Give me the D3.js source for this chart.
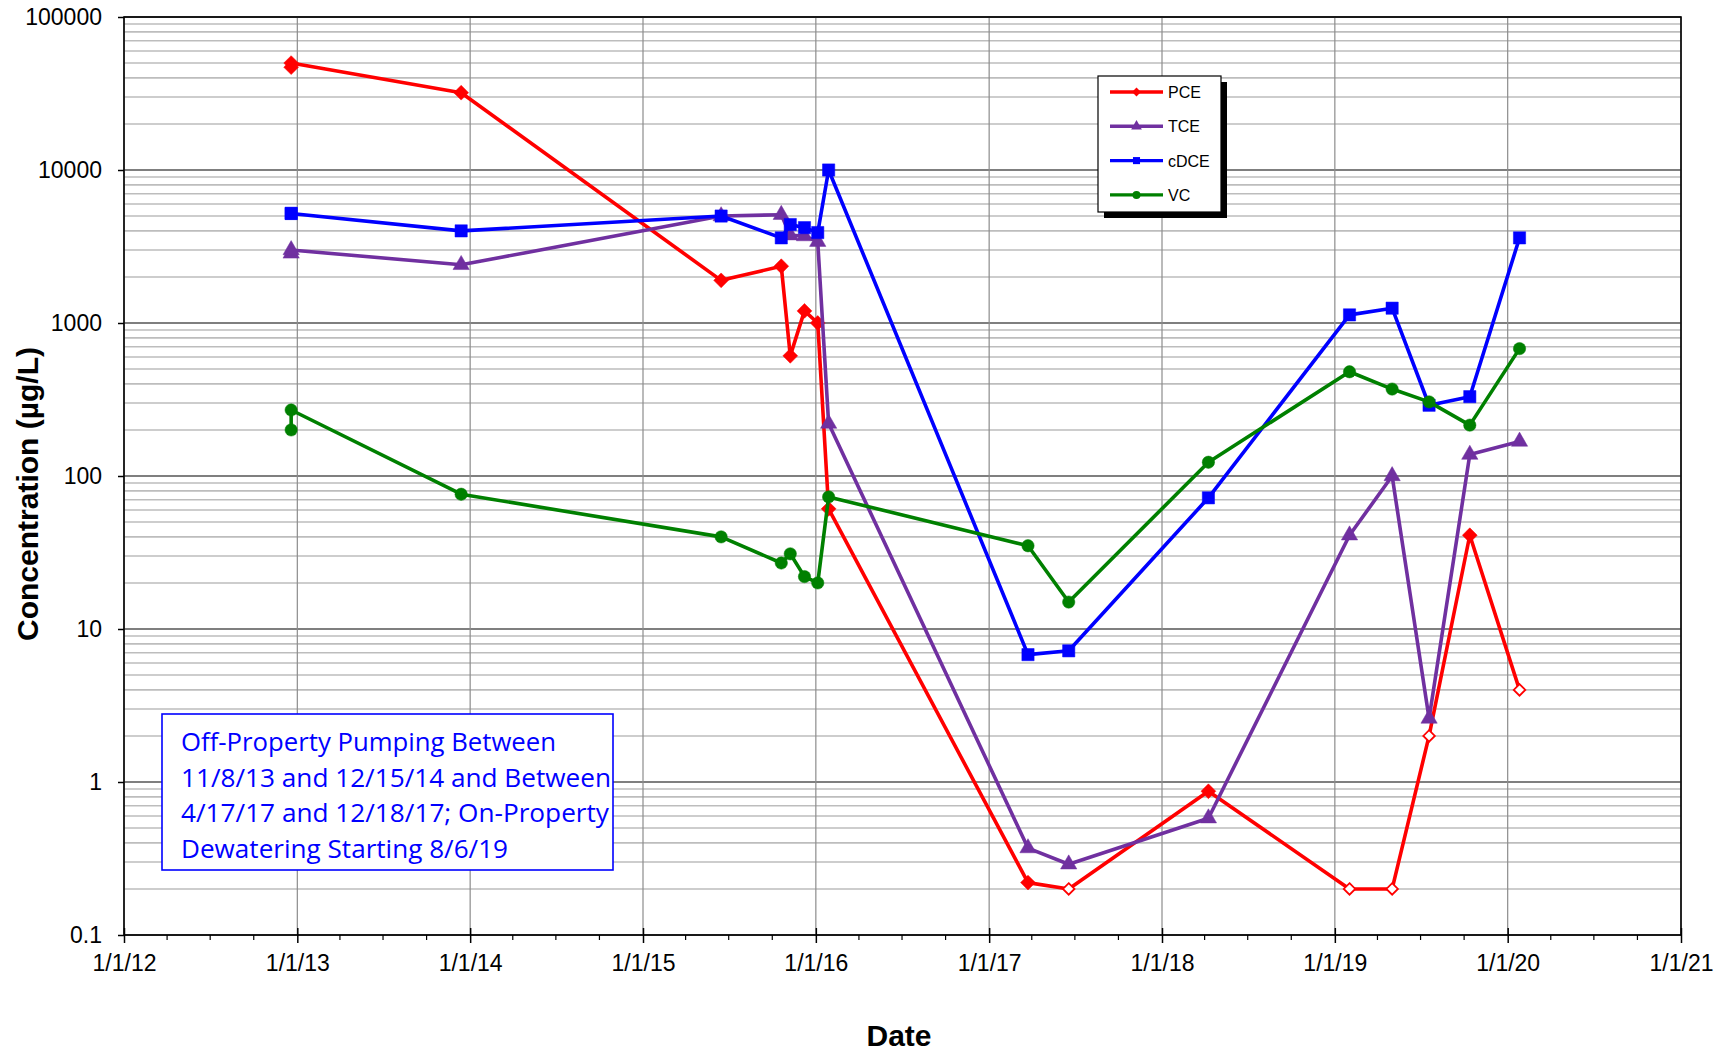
<!DOCTYPE html>
<html>
<head>
<meta charset="utf-8">
<script src="https://cdn.jsdelivr.net/npm/d3@7"></script>
<style>
  html, body { margin: 0; padding: 0; background: #fff; }
  svg { display: block; }
</style>
</head>
<body>
<svg id="chart" width="1725" height="1054"></svg>
<script>
// ---------------- data ----------------
const sampleDates = ["2012-12-19","2012-12-19","2013-12-13","2015-06-15","2015-10-20","2015-11-08",
  "2015-12-08","2016-01-05","2016-01-28","2017-03-24","2017-06-18","2018-04-09",
  "2019-02-01","2019-05-02","2019-07-19","2019-10-13","2020-01-26"];
const seriesNames = ["PCE", "TCE", "cDCE", "VC"];
const pceValues  = [47000, 50000, 32000, 1900, 2350, 610, 1200, 1000, 61, 0.22, 0.2, 0.87, 0.2, 0.2, 2, 41, 4];
const pceNonDetect = [false,false,false,false,false,false,false,false,false,false,true,false,true,true,true,false,true];
const tceValues  = [2850, 3000, 2400, 5000, 5100, 3750, 3700, 3400, 220, 0.37, 0.29, 0.58, 41, 100, 2.6, 138, 168];
const cdceValues = [5200, 5200, 4000, 5000, 3600, 4400, 4200, 3900, 10000, 6.8, 7.2, 72, 1130, 1250, 290, 330, 3600];
const vcValues   = [200, 270, 76, 40, 27, 31, 22, 20, 73, 35, 15, 123, 480, 370, 305, 215, 680];
const yTickValues = [0.1, 1, 10, 100, 1000, 10000, 100000];
const yTickLabels = ["0.1", "1", "10", "100", "1000", "10000", "100000"];
const xTickYears = [2012, 2013, 2014, 2015, 2016, 2017, 2018, 2019, 2020, 2021];
const xTickLabels = ["1/1/12","1/1/13","1/1/14","1/1/15","1/1/16","1/1/17","1/1/18","1/1/19","1/1/20","1/1/21"];
const noteLines = ["Off-Property Pumping Between", "11/8/13 and 12/15/14 and Between",
  "4/17/17 and 12/18/17; On-Property", "Dewatering Starting 8/6/19"];
const yTitle = "Concentration (µg/L)";
const xTitle = "Date";

// ---------------- layout ----------------
const L = 124, R = 1681, T = 17, B = 935;
const colors = { PCE: "#ff0000", TCE: "#7030a0", cDCE: "#0000ff", VC: "#008000" };
const svg = d3.select("#chart");
const parse = d3.timeParse("%Y-%m-%d");
const dates = sampleDates.map(parse);

const x = d3.scaleTime().domain([new Date(2012,0,1), new Date(2021,0,1)]).range([L, R]);
const y = d3.scaleLog().domain([0.1, 100000]).range([B, T]);

// gridlines
const grid = svg.append("g");
const minorVals = [];
for (let e = -1; e < 5; e++) for (let k = 2; k <= 9; k++) minorVals.push(k * Math.pow(10, e));
grid.selectAll(".minor").data(minorVals).enter().append("line")
  .attr("x1", L).attr("x2", R).attr("y1", d => y(d)).attr("y2", d => y(d))
  .attr("stroke", "#bdbdbd").attr("stroke-width", 1.6);
grid.selectAll(".major").data(yTickValues).enter().append("line")
  .attr("x1", L).attr("x2", R).attr("y1", d => y(d)).attr("y2", d => y(d))
  .attr("stroke", "#7f7f7f").attr("stroke-width", 2);
const yearDates = xTickYears.map(yr => new Date(yr, 0, 1));
grid.selectAll(".vg").data(yearDates).enter().append("line")
  .attr("x1", d => x(d)).attr("x2", d => x(d)).attr("y1", T).attr("y2", B)
  .attr("stroke", "#8c8c8c").attr("stroke-width", 1.2);

// frame
svg.append("rect").attr("x", L).attr("y", T).attr("width", R - L).attr("height", B - T)
  .attr("fill", "none").attr("stroke", "#000").attr("stroke-width", 1.6);

// axes
const yAxis = d3.axisLeft(y).tickValues(yTickValues).tickFormat((d, i) => yTickLabels[i]).tickSize(6).tickPadding(16);
const gy = svg.append("g").attr("transform", `translate(${L},0)`).call(yAxis);
gy.select(".domain").remove();
gy.selectAll("line").attr("stroke", "#000").attr("stroke-width", 1.5);
gy.selectAll("text").attr("font-family", "'Liberation Sans', Arial, sans-serif").attr("font-size", 23).attr("fill", "#000");

const xAxis = d3.axisBottom(x).tickValues(yearDates).tickFormat((d, i) => xTickLabels[i]).tickSize(8).tickPadding(12);
const gx = svg.append("g").attr("transform", `translate(0,${B})`).call(xAxis);
gx.select(".domain").remove();
gx.selectAll("line").attr("stroke", "#000").attr("stroke-width", 1.5).attr("y1", -7);
gx.selectAll("text").attr("font-family", "'Liberation Sans', Arial, sans-serif").attr("font-size", 23).attr("fill", "#000");
// minor quarterly ticks
const quarters = d3.timeMonth.every(3).range(new Date(2012,0,1), new Date(2021,0,2)).filter(d => d.getMonth() !== 0);
svg.append("g").selectAll("line").data(quarters).enter().append("line")
  .attr("x1", d => x(d)).attr("x2", d => x(d)).attr("y1", B).attr("y2", B + 5)
  .attr("stroke", "#000").attr("stroke-width", 1.2);

// axis titles
svg.append("text").attr("transform", `translate(38,494) rotate(-90)`).attr("text-anchor", "middle")
  .attr("font-family", "'Liberation Sans', Arial, sans-serif").attr("font-weight", "bold").attr("font-size", 30)
  .text(yTitle);
svg.append("text").attr("x", 899).attr("y", 1046).attr("text-anchor", "middle")
  .attr("font-family", "'Liberation Sans', Arial, sans-serif").attr("font-weight", "bold").attr("font-size", 30)
  .text(xTitle);

// series
const diamond = d3.symbolDiamond2 || d3.symbolDiamond;
const seriesData = [
  { name: "PCE", values: pceValues, shape: diamond, size: 140 },
  { name: "TCE", values: tceValues, shape: d3.symbolTriangle, size: 115 },
  { name: "cDCE", values: cdceValues, shape: d3.symbolSquare, size: 150 },
  { name: "VC", values: vcValues, shape: d3.symbolCircle, size: 120 }
];
const line = d3.line().x(d => x(d.date)).y(d => y(d.v));
seriesData.forEach(s => {
  const pts = s.values.map((v, i) => ({ date: dates[i], v, open: s.name === "PCE" && pceNonDetect[i] }));
  const g = svg.append("g");
  g.append("path").datum(pts).attr("d", line).attr("fill", "none")
    .attr("stroke", colors[s.name]).attr("stroke-width", 3.6).attr("stroke-linejoin", "round");
  g.selectAll("path.m").data(pts).enter().append("path").attr("class", "m")
    .attr("transform", d => `translate(${x(d.date)},${y(d.v)})`)
    .attr("d", d => d3.symbol().type(s.shape).size(d.open ? 85 : s.size)())
    .attr("fill", d => d.open ? "#fff" : colors[s.name])
    .attr("stroke", colors[s.name]).attr("stroke-width", d => d.open ? 1.8 : 0.5);
});

// legend
const lg = svg.append("g");
lg.append("rect").attr("x", 1104).attr("y", 82).attr("width", 123).attr("height", 136).attr("fill", "#000");
lg.append("rect").attr("x", 1098).attr("y", 76).attr("width", 123).attr("height", 136)
  .attr("fill", "#fff").attr("stroke", "#000").attr("stroke-width", 1.2);
seriesData.forEach((s, i) => {
  const ly = 92 + i * 34.3;
  lg.append("line").attr("x1", 1110).attr("x2", 1163).attr("y1", ly).attr("y2", ly)
    .attr("stroke", colors[s.name]).attr("stroke-width", 3.4);
  lg.append("path").attr("transform", `translate(1136.5,${ly})`)
    .attr("d", d3.symbol().type(s.shape).size(50)()).attr("fill", colors[s.name]);
  lg.append("text").attr("x", 1168).attr("y", ly + 6).attr("font-family", "'Liberation Sans', Arial, sans-serif")
    .attr("font-size", 16).text(s.name);
});

// note box
const nb = svg.append("g");
nb.append("rect").attr("x", 162).attr("y", 714).attr("width", 451).attr("height", 156)
  .attr("fill", "#fff").attr("stroke", "#0000ff").attr("stroke-width", 1.6);
const noteWidths = [375, 430, 428, 327];
noteLines.forEach((t, i) => {
  nb.append("text").attr("x", 181).attr("y", 751 + i * 35.7)
    .attr("font-family", "'Open Sans', 'Noto Sans', sans-serif").attr("font-size", 25)
    .attr("fill", "#0000ff").attr("textLength", noteWidths[i]).attr("lengthAdjust", "spacingAndGlyphs")
    .text(t);
});
</script>
</body>
</html>
